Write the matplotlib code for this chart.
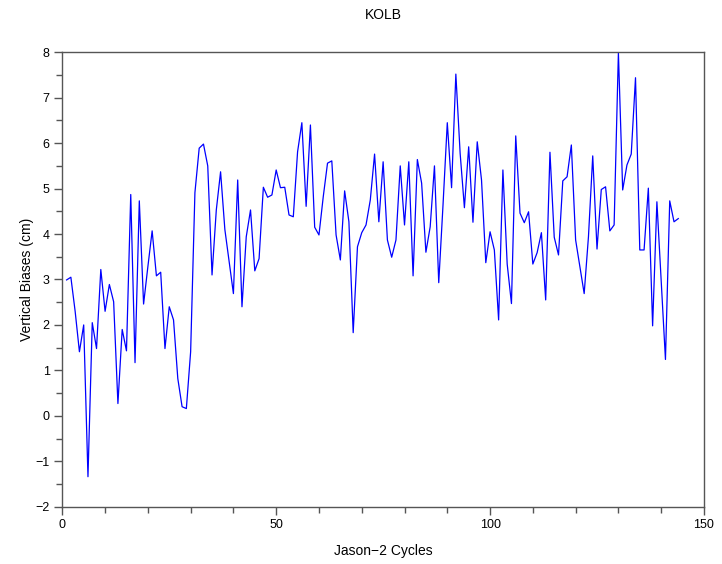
import numpy as np
import matplotlib
matplotlib.use('Agg')
import matplotlib.pyplot as plt
from matplotlib.ticker import MultipleLocator

plt.rcParams['font.family'] = ['Liberation Sans', 'DejaVu Sans']

# cycle numbers and vertical bias (cm) per cycle
cycles = np.arange(1, 145)
biases = [
    2.99, 3.05, 2.30, 1.41, 2.00, -1.34, 2.05, 1.48, 3.22, 2.30,
    2.89, 2.51, 0.27, 1.90, 1.43, 4.87, 1.17, 4.73, 2.46, 3.28,
    4.07, 3.08, 3.16, 1.48, 2.40, 2.11, 0.82, 0.20, 0.16, 1.41,
    4.91, 5.89, 5.98, 5.50, 3.10, 4.53, 5.37, 4.10, 3.40, 2.69,
    5.19, 2.40, 3.94, 4.53, 3.19, 3.46, 5.03, 4.81, 4.86, 5.41,
    5.02, 5.03, 4.42, 4.38, 5.81, 6.45, 4.61, 6.40, 4.15, 3.98,
    4.82, 5.56, 5.61, 3.98, 3.43, 4.95, 4.27, 1.83, 3.72, 4.03,
    4.20, 4.75, 5.76, 4.27, 5.59, 3.87, 3.49, 3.87, 5.50, 4.20,
    5.59, 3.08, 5.64, 5.12, 3.60, 4.16, 5.50, 2.93, 4.64, 6.45,
    5.02, 7.52, 5.78, 4.58, 5.92, 4.26, 6.03, 5.19, 3.37, 4.05,
    3.65, 2.11, 5.41, 3.34, 2.47, 6.16, 4.46, 4.25, 4.49, 3.34,
    3.59, 4.03, 2.55, 5.80, 3.93, 3.54, 5.17, 5.26, 5.96, 3.87,
    3.28, 2.69, 3.94, 5.72, 3.67, 4.98, 5.04, 4.07, 4.20, 7.99,
    4.97, 5.52, 5.76, 7.44, 3.65, 3.65, 5.01, 1.98, 4.71, 2.99,
    1.24, 4.73, 4.27, 4.34,
]

fig = plt.figure(figsize=(7.22, 5.64), dpi=100)
ax = fig.add_axes([0.0863, 0.1016, 0.8887, 0.8057])

ax.plot(cycles, biases, color='#0000ff', linewidth=0.9)

ax.set_xlim(0, 150)
ax.set_ylim(-2, 8)
ax.xaxis.set_major_locator(MultipleLocator(50))
ax.xaxis.set_minor_locator(MultipleLocator(10))
ax.yaxis.set_major_locator(MultipleLocator(1))
ax.yaxis.set_minor_locator(MultipleLocator(0.5))

axis_grey = '#555555'
for s in ax.spines.values():
    s.set_color(axis_grey)
    s.set_linewidth(1.0)
ax.tick_params(which='major', direction='out', length=6, width=1.0,
               color=axis_grey, labelsize=9, pad=3)
ax.tick_params(which='minor', direction='out', length=4, width=1.0,
               color=axis_grey)

ax.set_title('KOLB', fontsize=10, pad=24)
ax.set_xlabel('Jason\u22122 Cycles', fontsize=10, labelpad=9)
ax.set_ylabel('Vertical Biases (cm)', fontsize=10, labelpad=1)

fig.savefig('out.png', dpi=100)
